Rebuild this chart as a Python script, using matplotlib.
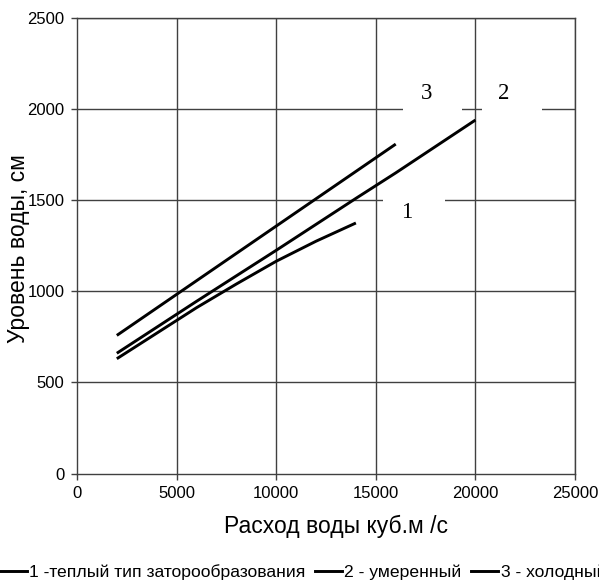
import numpy as np
import matplotlib
matplotlib.use('Agg')
import matplotlib.pyplot as plt
from matplotlib.lines import Line2D
from matplotlib.patches import Rectangle

# water discharge, m3/s and water level, cm
q1 = [2000, 4000, 6000, 8000, 10000, 12000, 14000]
h1 = [630, 770, 910, 1040, 1165, 1275, 1375]

q2 = [2000, 6000, 10000, 14000, 16000, 20000]
h2 = [660, 945, 1225, 1510, 1650, 1940]

q3 = [2000, 16000]
h3 = [758, 1808]

labels = ['1 -теплый тип заторообразования', '2 - умеренный', '3 - холодный']

# curve number labels: text, x, y, white box from x0 to x1
tags = [('3', 17570, 2085, 16370, 19330),
        ('2', 21435, 2085, 20330, 23340),
        ('1', 16570, 1430, 15360, 18470)]

plt.rcParams['font.family'] = ['Liberation Sans', 'DejaVu Sans']

fig = plt.figure(figsize=(5.99, 5.81), dpi=100)
ax = fig.add_axes([0.1285, 0.185, 0.8315, 0.784])

grid_c = '#404040'
for v in [5000, 10000, 15000, 20000, 25000]:
    ax.axvline(v, color=grid_c, lw=1.0, zorder=1)
for v in [500, 1000, 1500, 2000, 2500]:
    ax.axhline(v, color=grid_c, lw=1.0, zorder=1)

lw = 2.1
ax.plot(q1, h1, color='black', lw=lw, zorder=3, solid_capstyle='butt')
ax.plot(q2, h2, color='black', lw=lw, zorder=3, solid_capstyle='butt')
ax.plot(q3, h3, color='black', lw=lw, zorder=3, solid_capstyle='butt')

for t, x, y, x0, x1 in tags:
    ax.add_patch(Rectangle((x0, y - 105), x1 - x0, 210, fc='white', ec='none', zorder=2))
    ax.text(x, y, t, fontsize=16.5, family='Liberation Serif', ha='center', va='center', zorder=4)

ax.set_xlim(0, 25000)
ax.set_ylim(0, 2500)
ax.set_xticks(np.arange(0, 25001, 5000))
ax.set_yticks(np.arange(0, 2501, 500))
ax.tick_params(direction='out', length=4, width=1, color=grid_c, labelsize=12, pad=5)

for s in ax.spines.values():
    s.set_color(grid_c)
    s.set_linewidth(1.0)

ax.set_xlabel('Расход воды куб.м /с', fontsize=16.5, va='center')
ax.xaxis.set_label_coords(0.52, -0.116)
ax.set_ylabel('Уровень воды, см', fontsize=16.5, va='center')
ax.yaxis.set_label_coords(-0.118, 0.493)

handles = [Line2D([0], [0], color='black', lw=2.1) for _ in labels]
fig.legend(handles, labels, loc='center left', bbox_to_anchor=(0.0, 0.0155), ncol=3, frameon=False,
           fontsize=12.6, handlelength=1.55, handletextpad=0.12, columnspacing=0.55,
           borderpad=0, borderaxespad=0)

fig.savefig('out.png', dpi=100)
